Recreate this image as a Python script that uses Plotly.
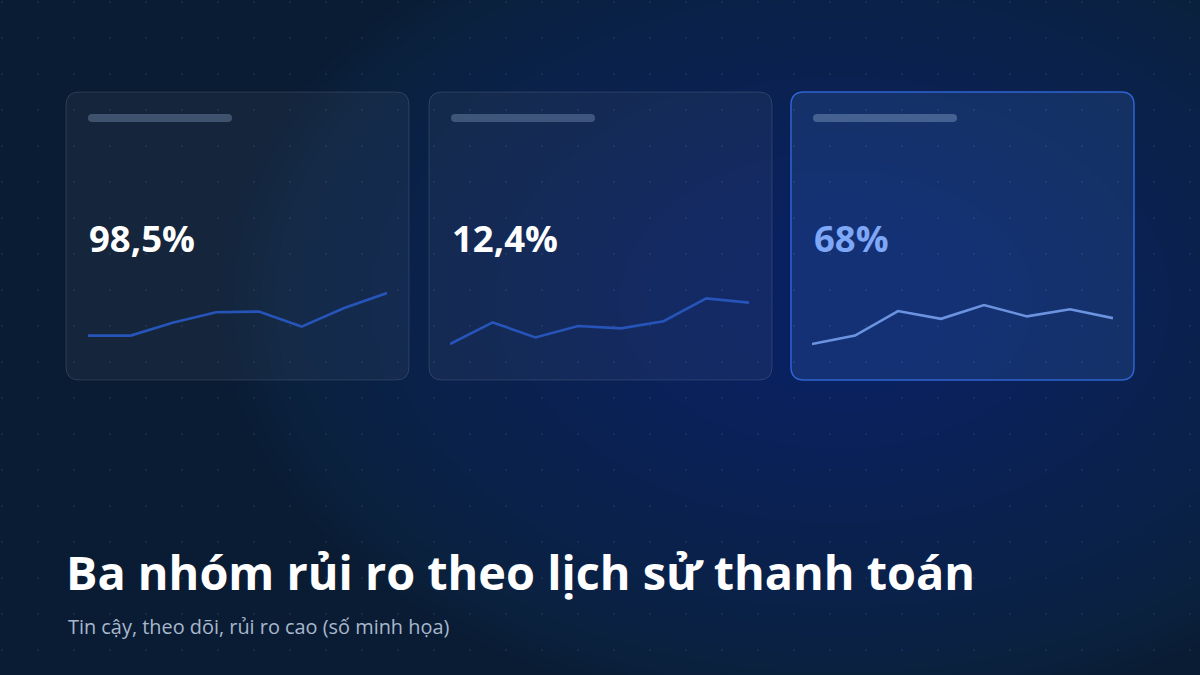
import plotly.graph_objects as go

# ---- data ----
groups = ["Tin cậy", "Theo dõi", "Rủi ro cao"]
value_labels = ["98,5%", "12,4%", "68%"]
periods = [1, 2, 3, 4, 5, 6, 7, 8]
trend_tin_cay = [24, 24, 46, 63, 64, 39, 70, 95]
trend_theo_doi = [10, 46, 21, 40, 36, 48, 86, 79]
trend_rui_ro = [10, 24, 65, 52, 75, 56, 68, 53]
title_text = "Ba nhóm rủi ro theo lịch sử thanh toán"
subtitle_text = "Tin cậy, theo dõi, rủi ro cao (số minh họa)"

W, H = 1200, 675
BG = "#0a1c34"
FONT = "Open Sans"

fig = go.Figure()

# background dot grid (decoration)
dx, dy = [], []
for i in range(34):
    for j in range(19):
        dx.append(2 + 36 * i)
        dy.append(2 + 36 * j)
fig.add_trace(go.Scatter(x=dx, y=dy, mode="markers", xaxis="x", yaxis="y",
                         marker=dict(size=2.2, color="rgba(140,170,210,0.13)"),
                         hoverinfo="skip", showlegend=False))

shapes = []
# radial glow
N = 45
cx, cy = 840, 300
for k in range(N):
    f = 1 - k / N
    rx, ry = 620 * f, 420 * f
    shapes.append(dict(type="circle", xref="x", yref="y", x0=cx - rx, x1=cx + rx,
                       y0=cy - ry, y1=cy + ry, fillcolor="rgba(20,74,140,0.03)",
                       line=dict(width=0), layer="below"))


def rrect(x0, y0, x1, y1, r):
    return (f"M{x0+r},{y0} L{x1-r},{y0} Q{x1},{y0} {x1},{y0+r} L{x1},{y1-r} "
            f"Q{x1},{y1} {x1-r},{y1} L{x0+r},{y1} Q{x0},{y1} {x0},{y1-r} "
            f"L{x0},{y0+r} Q{x0},{y0} {x0+r},{y0} Z")


card_x = [66, 429, 791]
card_w = 343
card_top, card_bot = 92, 380
for i, x0 in enumerate(card_x):
    hi = (i == 2)
    shapes.append(dict(type="path", xref="x", yref="y",
                       path=rrect(x0, card_top, x0 + card_w, card_bot, 13),
                       fillcolor="rgba(80,140,235,0.15)" if hi else "rgba(255,255,255,0.045)",
                       line=dict(color="#2e63d0" if hi else "rgba(255,255,255,0.12)",
                                 width=1.5 if hi else 1),
                       layer="below"))
    shapes.append(dict(type="path", xref="x", yref="y",
                       path=rrect(x0 + 22, 114, x0 + 166, 122, 4),
                       fillcolor="rgba(150,175,210,0.38)" if hi else "rgba(150,175,210,0.33)",
                       line=dict(width=0), layer="above"))

annotations = []
for i, x0 in enumerate(card_x):
    annotations.append(dict(xref="x", yref="y", x=x0 + 21, y=238, text=value_labels[i],
                            showarrow=False, xanchor="left", yanchor="middle",
                            font=dict(family=FONT, size=36.5, weight=700,
                                      color="#7fa7f7" if i == 2 else "#ffffff")))

annotations.append(dict(xref="x", yref="y", x=64, y=572, text=title_text, showarrow=False,
                        xanchor="left", yanchor="middle",
                        font=dict(family=FONT, size=46.8, weight=700, color="#ffffff")))
annotations.append(dict(xref="x", yref="y", x=66, y=626, text=subtitle_text, showarrow=False,
                        xanchor="left", yanchor="middle",
                        font=dict(family=FONT, size=19.9, color="#a8b8cc")))

# sparklines
trends = [trend_tin_cay, trend_theo_doi, trend_rui_ro]
colors = ["#2654b8", "#2654b8", "#6b93e0"]
spark_x = [(88, 387), (450, 749), (812, 1113)]
ytop, ybot = 290, 350
layout_axes = {}
for i in range(3):
    n = i + 2
    fig.add_trace(go.Scatter(x=periods, y=trends[i], mode="lines",
                             xaxis=f"x{n}", yaxis=f"y{n}", name=groups[i],
                             line=dict(color=colors[i], width=2.6), showlegend=False,
                             hoverinfo="skip"))
    layout_axes[f"xaxis{n}"] = dict(domain=[spark_x[i][0] / W, spark_x[i][1] / W],
                                    range=[1, 8], visible=False, anchor=f"y{n}", fixedrange=True)
    layout_axes[f"yaxis{n}"] = dict(domain=[(H - ybot) / H, (H - ytop) / H],
                                    range=[0, 100], visible=False, anchor=f"x{n}", fixedrange=True)

fig.update_layout(
    width=W, height=H, margin=dict(l=0, r=0, t=0, b=0),
    paper_bgcolor=BG, plot_bgcolor="rgba(0,0,0,0)",
    xaxis=dict(range=[0, W], domain=[0, 1], visible=False, fixedrange=True),
    yaxis=dict(range=[H, 0], domain=[0, 1], visible=False, fixedrange=True),
    shapes=shapes, annotations=annotations, showlegend=False,
    **layout_axes,
)

fig.write_html("out.html")
